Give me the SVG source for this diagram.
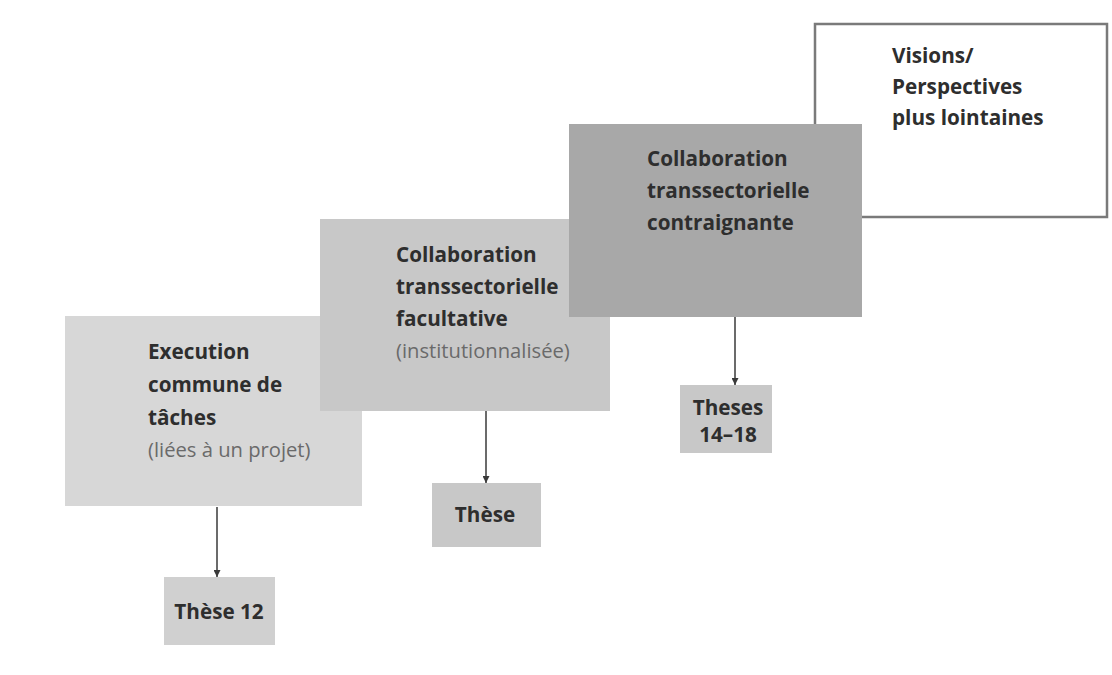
<svg xmlns="http://www.w3.org/2000/svg" width="1112" height="675" viewBox="0 0 1112 675">
  <defs>
    <marker id="arrow" viewBox="0 0 10 10" refX="10" refY="5" markerWidth="7" markerHeight="7" markerUnits="userSpaceOnUse" orient="auto">
      <path d="M0,0 L10,5 L0,10 z" fill="#3a3a3a"/>
    </marker>
  </defs>
  <style>
    .t { font-family: "Open Sans", "Noto Sans", "Liberation Sans", sans-serif; font-size: 20.7px; fill: #2e2e2e; }
    .b { font-weight: 700; }
    .n { font-weight: 400; font-size: 20.2px; fill: #6a6a6a; }
    .c { text-anchor: middle; }
    .edge { stroke: #3a3a3a; stroke-width: 1.5; fill: none; marker-end: url(#arrow); }
  </style>
  <rect width="1112" height="675" fill="#ffffff"/>

  <!-- stage 1 -->
  <g id="execution">
    <rect x="65" y="316" width="297" height="190" fill="#d7d7d7"/>
    <text class="t b" x="148" y="359">Execution</text>
    <text class="t b" x="148" y="392">commune de</text>
    <text class="t b" x="148" y="425">tâches</text>
    <text class="t n" x="148" y="457">(liées à un projet)</text>
  </g>

  <!-- stage 2 -->
  <g id="facultative">
    <rect x="320" y="219" width="290" height="192" fill="#c8c8c8"/>
    <text class="t b" x="396" y="262">Collaboration</text>
    <text class="t b" x="396" y="294">transsectorielle</text>
    <text class="t b" x="396" y="326">facultative</text>
    <text class="t n" x="396" y="358">(institutionnalisée)</text>
  </g>

  <!-- long-term outlook -->
  <g id="visions">
    <rect x="815" y="24" width="292" height="193" fill="#ffffff" stroke="#7a7a7a" stroke-width="2.5"/>
    <text class="t b" x="892" y="63">Visions/</text>
    <text class="t b" x="892" y="94">Perspectives</text>
    <text class="t b" x="892" y="125">plus lointaines</text>
  </g>

  <!-- stage 3 -->
  <g id="contraignante">
    <rect x="569" y="124" width="293" height="193" fill="#a8a8a8"/>
    <text class="t b" x="647" y="166">Collaboration</text>
    <text class="t b" x="647" y="198">transsectorielle</text>
    <text class="t b" x="647" y="230">contraignante</text>
  </g>

  <!-- theses -->
  <g id="these12">
    <rect x="164" y="577" width="111" height="68" fill="#d0d0d0"/>
    <text class="t b c" x="219" y="619">Thèse 12</text>
  </g>
  <g id="these">
    <rect x="432" y="483" width="109" height="64" fill="#c8c8c8"/>
    <text class="t b c" x="485" y="522">Thèse</text>
  </g>
  <g id="theses14-18">
    <rect x="680" y="385" width="92" height="68" fill="#c8c8c8"/>
    <text class="t b c" x="728" y="415">Theses</text>
    <text class="t b c" x="728" y="442">14–18</text>
  </g>

  <g id="connectors">
    <line class="edge" x1="217" y1="507" x2="217" y2="577"/>
    <line class="edge" x1="486" y1="411" x2="486" y2="483"/>
    <line class="edge" x1="735" y1="317" x2="735" y2="385"/>
  </g>
</svg>
